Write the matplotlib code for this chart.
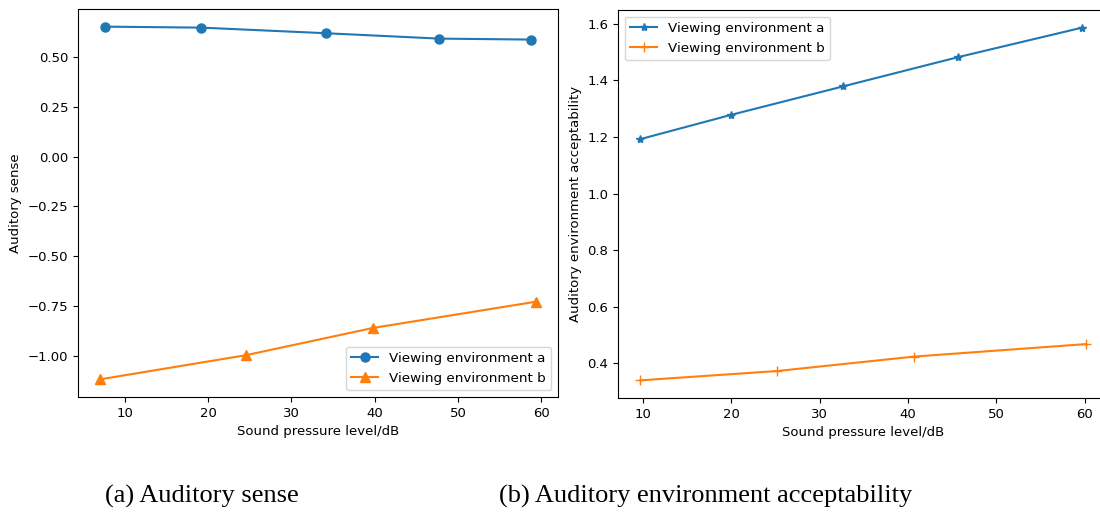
import matplotlib
matplotlib.use("Agg")
import matplotlib.pyplot as plt

# auditory sense vs sound pressure level
spl_sense_a = [7.6, 19.2, 34.1, 47.7, 58.8]
sense_a = [0.652, 0.647, 0.619, 0.592, 0.587]
spl_sense_b = [7.0, 24.5, 39.8, 59.4]
sense_b = [-1.118, -0.997, -0.860, -0.728]

# auditory environment acceptability vs sound pressure level
spl_acc_a = [9.7, 20.0, 32.6, 45.7, 59.7]
acc_a = [1.192, 1.278, 1.378, 1.482, 1.586]
spl_acc_b = [9.7, 25.2, 40.7, 60.1]
acc_b = [0.340, 0.373, 0.424, 0.468]

fig = plt.figure(figsize=(11, 5.14), dpi=100)
ax1 = fig.add_axes([0.0709, 0.2276, 0.4364, 0.7549])
ax2 = fig.add_axes([0.5618, 0.2257, 0.4455, 0.7549])

ax1.plot(spl_sense_a, sense_a, marker="o", markersize=6.5, label="Viewing environment a")
ax1.plot(spl_sense_b, sense_b, marker="^", markersize=6.5, label="Viewing environment b")
ax1.set_xlabel("Sound pressure level/dB", fontsize=9.5)
ax1.set_ylabel("Auditory sense", fontsize=9.5)
ax1.legend(loc="lower right", fontsize=9.7)

ax2.plot(spl_acc_a, acc_a, marker="*", markersize=6, label="Viewing environment a")
ax2.plot(spl_acc_b, acc_b, marker="+", markersize=7, label="Viewing environment b")
ax2.set_xlabel("Sound pressure level/dB", fontsize=9.5)
ax2.set_ylabel("Auditory environment acceptability", fontsize=9.5)
ax2.legend(loc="upper left", fontsize=9.7)

for ax in (ax1, ax2):
    ax.tick_params(labelsize=9.5)

# sub-figure captions
fig.text(0.1836, 0.0214, "(a) Auditory sense", ha="center", va="baseline",
         family="Liberation Serif", fontsize=19)
fig.text(0.6414, 0.0214, "(b) Auditory environment acceptability", ha="center",
         va="baseline", family="Liberation Serif", fontsize=19)

fig.savefig("out.png", dpi=100)
